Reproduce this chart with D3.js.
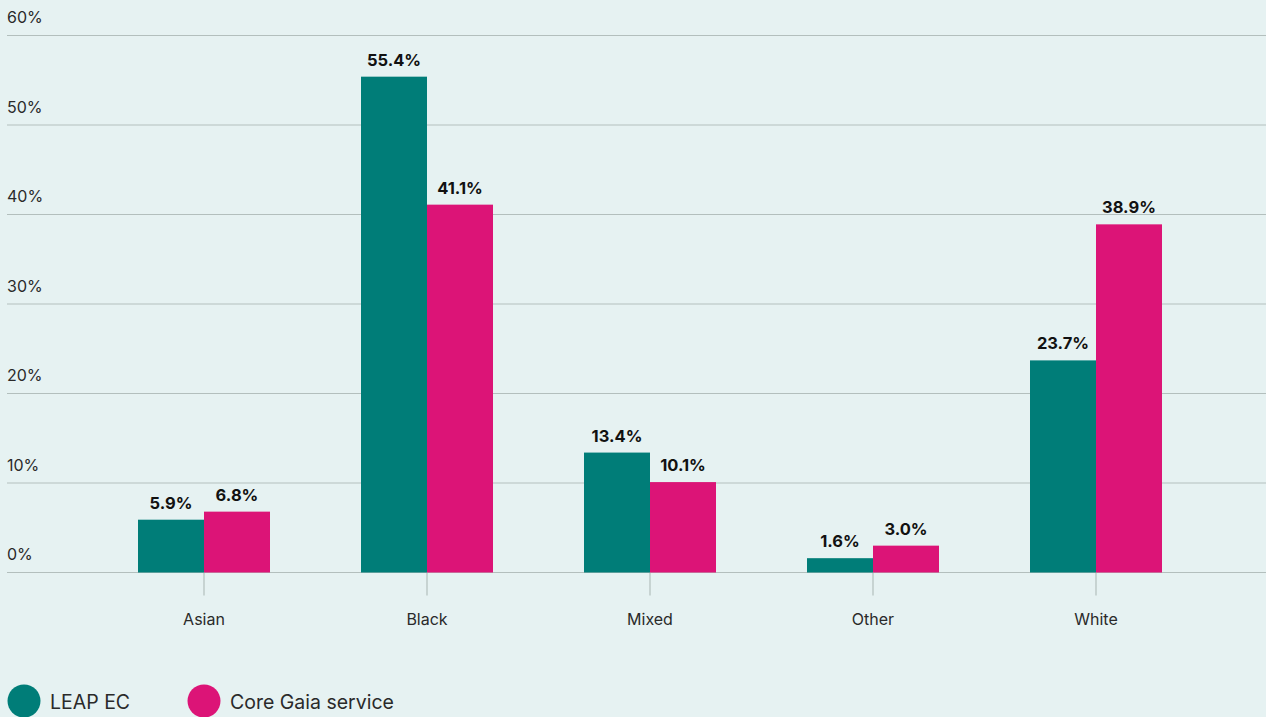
<!DOCTYPE html>
<html>
<head>
<meta charset="utf-8">
<script src="https://cdn.jsdelivr.net/npm/d3@7"></script>
<style>
  html, body { margin: 0; padding: 0; background: #e6f2f2; }
  svg { display: block; font-family: "Inter", "Lato", sans-serif; }
</style>
</head>
<body>
<svg id="chart" width="1266" height="717"></svg>
<script>
// Ethnicity breakdown: LEAP EC vs core Gaia service (percent of people)
const categories = ["Asian", "Black", "Mixed", "Other", "White"];
const seriesNames = ["LEAP EC", "Core Gaia service"];
const leapEC = [5.9, 55.4, 13.4, 1.6, 23.7];
const coreGaia = [6.8, 41.1, 10.1, 3.0, 38.9];
const yTicks = [0, 10, 20, 30, 40, 50, 60];
const colors = ["#007d78", "#dc1477"];

const svg = d3.select("#chart");
const W = 1266;

const y = d3.scaleLinear().domain([0, 60]).range([572.5, 35.5]);

// category centres via a band scale with no padding; bars share a 132px group
const x = d3.scaleBand().domain(categories).range([92.5, 1207.5]).padding(0);
const inner = d3.scaleBand().domain(seriesNames).range([-66, 66]).padding(0);

// gridlines and y labels
const grid = svg.append("g");
grid.selectAll("line").data(yTicks).join("line")
  .attr("x1", 7).attr("x2", W)
  .attr("y1", d => y(d)).attr("y2", d => y(d))
  .attr("stroke", "#b3bfbd").attr("stroke-width", 1.2);
grid.selectAll("text").data(yTicks).join("text")
  .attr("x", 7).attr("y", d => y(d) - 12.5)
  .attr("font-size", 16).attr("fill", "#2a2a2a")
  .text(d => d + "%");

// x axis tick marks and labels
const xa = svg.append("g");
xa.selectAll("line").data(categories).join("line")
  .attr("x1", d => x(d) + x.bandwidth() / 2).attr("x2", d => x(d) + x.bandwidth() / 2)
  .attr("y1", y(0)).attr("y2", y(0) + 23)
  .attr("stroke", "#b3bfbd").attr("stroke-width", 1.2);
xa.selectAll("text").data(categories).join("text")
  .attr("x", d => x(d) + x.bandwidth() / 2).attr("y", 625)
  .attr("text-anchor", "middle").attr("font-size", 16).attr("fill", "#2a2a2a")
  .text(d => d);

// bars
const rows = categories.map((c, i) => ({ cat: c, vals: [leapEC[i], coreGaia[i]] }));
const groups = svg.append("g").selectAll("g").data(rows).join("g")
  .attr("transform", d => `translate(${x(d.cat) + x.bandwidth() / 2},0)`);

groups.selectAll("rect").data(d => d.vals.map((v, j) => ({ v, s: seriesNames[j], j }))).join("rect")
  .attr("x", d => inner(d.s))
  .attr("width", inner.bandwidth())
  .attr("y", d => y(d.v))
  .attr("height", d => y(0) - y(d.v))
  .attr("fill", d => colors[d.j]);

groups.selectAll("text").data(d => d.vals.map((v, j) => ({ v, s: seriesNames[j], j }))).join("text")
  .attr("x", d => inner(d.s) + inner.bandwidth() / 2)
  .attr("y", d => y(d.v) - 11)
  .attr("text-anchor", "middle").attr("font-size", 16.5).attr("font-weight", 700)
  .attr("fill", "#111")
  .text(d => d.v.toFixed(1) + "%");

// legend
const legendX = [24, 204];
const lg = svg.append("g").selectAll("g").data(seriesNames).join("g")
  .attr("transform", (d, i) => `translate(${legendX[i]},701)`);
lg.append("circle").attr("r", 16.5).attr("fill", (d, i) => colors[i]);
lg.append("text").attr("x", 26).attr("y", 7.5)
  .attr("font-size", 19.5).attr("fill", "#2a2a2a").text(d => d);
</script>
</body>
</html>
